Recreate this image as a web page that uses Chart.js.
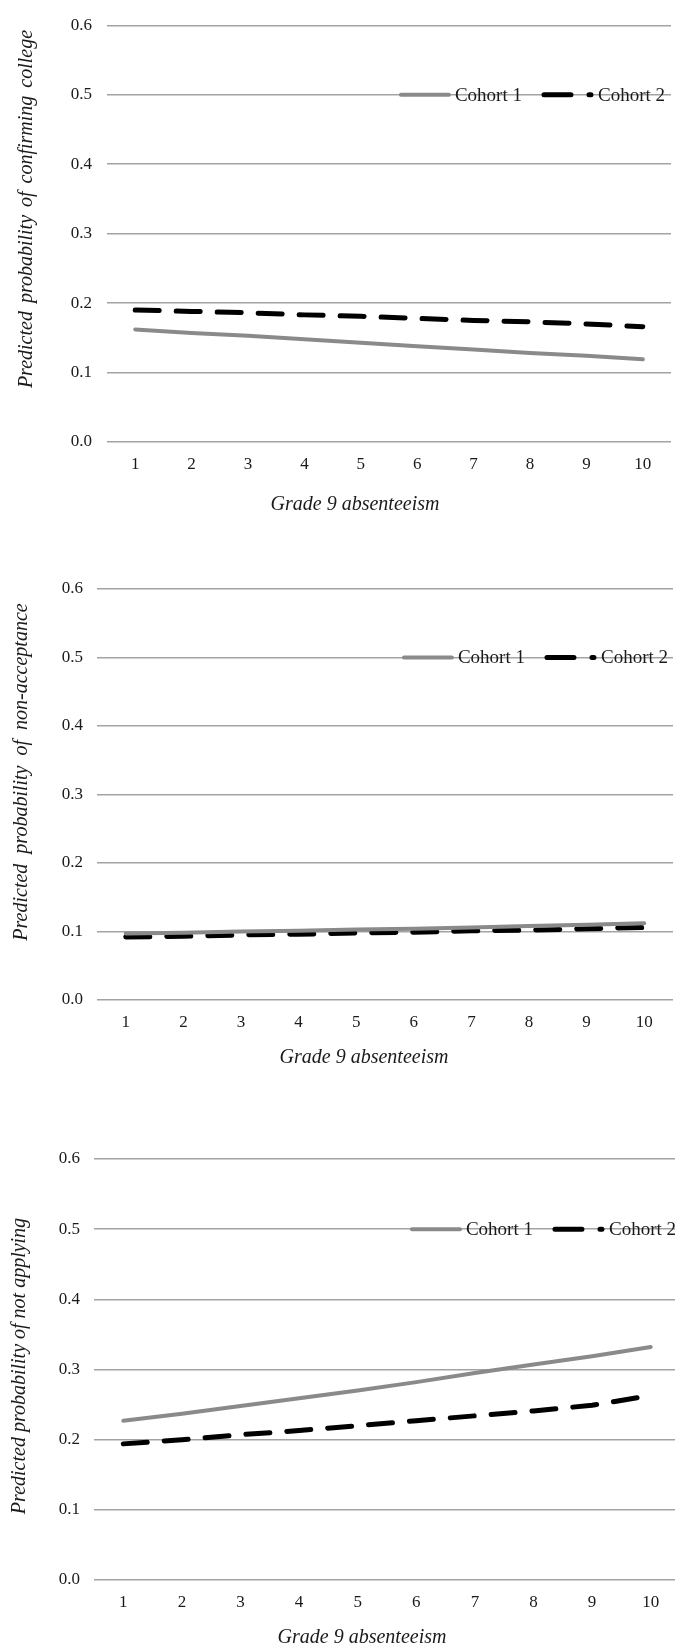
<!DOCTYPE html>
<html>
<head>
<meta charset="utf-8">
<script src="https://cdn.jsdelivr.net/npm/chart.js@4"></script>
<style>
  html, body { margin: 0; padding: 0; background: #fff; width: 675px; height: 1650px; overflow: hidden; }
  .box { position: absolute; left: 0; }
</style>
</head>
<body>
<div class="box" style="top:0px;width:675px;height:516px"><canvas id="chart1"></canvas></div>
<div class="box" style="top:530px;width:675px;height:540px"><canvas id="chart2"></canvas></div>
<div class="box" style="top:1090px;width:680px;height:560px"><canvas id="chart3"></canvas></div>
<script>
// data
const absences = ['1', '2', '3', '4', '5', '6', '7', '8', '9', '10'];
const seriesNames = ['Cohort 1', 'Cohort 2'];
const yTicks = [0, 0.1, 0.2, 0.3, 0.4, 0.5, 0.6];
const legendAt = 0.5;
const xTitle = 'Grade 9 absenteeism';

const confirmCohort1 = [0.162, 0.157, 0.153, 0.148, 0.143, 0.138, 0.133, 0.128, 0.124, 0.119];
const confirmCohort2 = [0.190, 0.188, 0.186, 0.183, 0.181, 0.178, 0.175, 0.173, 0.170, 0.166];

const rejectCohort1 = [0.097, 0.098, 0.100, 0.101, 0.103, 0.104, 0.106, 0.108, 0.110, 0.112];
const rejectCohort2 = [0.092, 0.093, 0.095, 0.096, 0.098, 0.099, 0.101, 0.102, 0.104, 0.106];

const notApplyCohort1 = [0.227, 0.237, 0.248, 0.259, 0.270, 0.282, 0.295, 0.307, 0.319, 0.332];
const notApplyCohort2 = [0.194, 0.200, 0.207, 0.213, 0.220, 0.227, 0.234, 0.241, 0.249, 0.263];

const SERIF = '"Liberation Serif", "Times New Roman", serif';
const GRAY = '#8a8a8a';
const GRID = '#a3a3a3';
const INK = '#1a1a1a';

// legend sits on the 0.5 gridline, right-aligned, like the Excel original
const lineLegend = {
  id: 'lineLegend',
  afterDraw(chart, args, opts) {
    const ctx = chart.ctx;
    const y = chart.scales.y.getPixelForValue(legendAt);
    ctx.save();
    ctx.font = '19px ' + SERIF;
    ctx.textBaseline = 'middle';
    const sample = 52, gapText = 4, gapItem = 20;
    const w1 = ctx.measureText(seriesNames[0]).width;
    const w2 = ctx.measureText(seriesNames[1]).width;
    const total = sample + gapText + w1 + gapItem + sample + gapText + w2;
    let x = chart.chartArea.right - opts.rightGap - total;

    ctx.lineCap = 'round';
    ctx.strokeStyle = GRAY;
    ctx.lineWidth = 4;
    ctx.beginPath(); ctx.moveTo(x + 2, y); ctx.lineTo(x + sample - 2, y); ctx.stroke();
    x += sample + gapText;
    ctx.fillStyle = INK;
    ctx.fillText(seriesNames[0], x, y + 1);
    x += w1 + gapItem;

    ctx.strokeStyle = '#000';
    ctx.lineWidth = 5;
    ctx.setLineDash([27, 18]);
    ctx.beginPath(); ctx.moveTo(x + 2, y); ctx.lineTo(x + 2 + 47, y); ctx.stroke();
    ctx.setLineDash([]);
    x += sample + gapText;
    ctx.fillText(seriesNames[1], x, y + 1);
    ctx.restore();
  }
};

// axis titles: Excel puts them a bit off the plot centre, so they are placed by hand
const axisCaptions = {
  id: 'axisCaptions',
  afterDraw(chart, args, o) {
    const ctx = chart.ctx;
    ctx.save();
    ctx.fillStyle = INK;
    ctx.font = 'italic 20px ' + SERIF;
    ctx.textAlign = 'center';
    ctx.textBaseline = 'middle';
    ctx.fillText(xTitle, o.xTitleX, chart.chartArea.bottom + o.xTitleDy);
    ctx.translate(o.yTitleX, o.yTitleY);
    ctx.rotate(-Math.PI / 2);
    if ('wordSpacing' in ctx) ctx.wordSpacing = o.wordSpacing + 'px';
    ctx.fillText(o.yTitle, 0, 0);
    ctx.restore();
  }
};

function makeChart(id, c1, c2, yTitle, lay) {
  return new Chart(document.getElementById(id), {
    type: 'line',
    data: {
      labels: absences,
      datasets: [
        { label: seriesNames[0], data: c1, borderColor: GRAY, borderWidth: 4,
          pointRadius: 0, tension: 0, borderCapStyle: 'round', fill: false },
        { label: seriesNames[1], data: c2, borderColor: '#000', borderWidth: 5,
          borderDash: [24, 17], borderCapStyle: 'round', pointRadius: 0, tension: 0, fill: false }
      ]
    },
    options: {
      responsive: true,
      maintainAspectRatio: false,
      animation: false,
      events: [],
      layout: { padding: { top: lay.top, right: lay.right, left: 0, bottom: 0 } },
      plugins: {
        legend: { display: false },
        tooltip: { enabled: false },
        lineLegend: { rightGap: lay.legendGap },
        axisCaptions: { yTitle: yTitle, xTitleX: lay.xTitleX, xTitleDy: lay.xTitleDy,
                        yTitleX: lay.yTitleX, yTitleY: lay.yTitleY, wordSpacing: lay.wordSpacing }
      },
      scales: {
        x: {
          type: 'category',
          offset: true,
          grid: { display: false, drawTicks: false },
          border: { display: false },
          ticks: { color: INK, padding: 12, maxRotation: 0, font: { family: SERIF, size: 17 } },
          afterFit(s) { s.height = lay.xHeight; }
        },
        y: {
          min: 0, max: 0.6,
          afterBuildTicks(s) { s.ticks = yTicks.map(v => ({ value: v })); },
          grid: { color: GRID, lineWidth: 1.4, drawTicks: false },
          border: { display: false },
          ticks: { color: INK, padding: lay.yTickPad, font: { family: SERIF, size: 17 },
                   callback: v => Number(v).toFixed(1) },
          afterFit(s) { s.width = lay.yWidth; }
        }
      }
    },
    plugins: [lineLegend, axisCaptions]
  });
}

makeChart('chart1', confirmCohort1, confirmCohort2, 'Predicted probability of confirming college',
  { top: 16, right: 4, legendGap: 6, xHeight: 74, yTickPad: 15, yWidth: 107,
    xTitleX: 355, xTitleDy: 63, yTitleX: 27, yTitleY: 209, wordSpacing: 3 });
makeChart('chart2', rejectCohort1, rejectCohort2, 'Predicted probability of non-acceptance',
  { top: 59, right: 2, legendGap: 5, xHeight: 70, yTickPad: 14, yWidth: 97,
    xTitleX: 364, xTitleDy: 58, yTitleX: 22, yTitleY: 242, wordSpacing: 5 });
makeChart('chart3', notApplyCohort1, notApplyCohort2, 'Predicted probability of not applying',
  { top: 69, right: 0, legendGap: 4, xHeight: 70, yTickPad: 14, yWidth: 94,
    xTitleX: 362, xTitleDy: 58, yTitleX: 20, yTitleY: 276, wordSpacing: 0 });
</script>
</body>
</html>
